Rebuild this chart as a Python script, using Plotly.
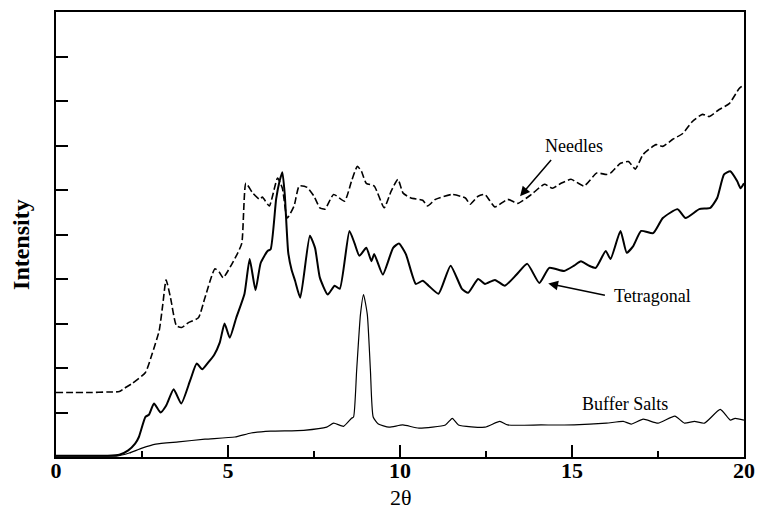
import plotly.graph_objects as go

# ---- data ----
tet_x = [0, 0.5, 1.0, 1.5, 1.84, 2.1, 2.3, 2.41, 2.6, 2.7, 2.85, 3.04, 3.2, 3.42, 3.64, 3.9, 4.09, 4.25, 4.42, 4.6,
         4.76, 4.9, 5.05, 5.24, 5.48, 5.63, 5.8, 5.95, 6.15, 6.24, 6.4, 6.5, 6.58, 6.65, 6.75, 6.85, 6.95, 7.1, 7.38,
         7.53, 7.67, 7.9, 8.1, 8.25, 8.53, 8.68, 8.82, 9.02, 9.17, 9.25, 9.5, 9.8, 9.97, 10.17, 10.46, 10.66, 10.83,
         11.12, 11.47, 11.8, 11.98, 12.27, 12.47, 12.76, 13.05, 13.39, 13.7, 14.05, 14.34, 14.77, 15.06, 15.26, 15.49,
         15.69, 15.98, 16.12, 16.41, 16.59, 16.78, 17.01, 17.36, 17.64, 18.07, 18.3, 18.7, 19.02, 19.22, 19.42, 19.6,
         19.8, 19.9, 20]
tet_y = [0.03, 0.03, 0.03, 0.03, 0.05, 0.15, 0.3, 0.45, 0.9, 0.95, 1.2, 1.0, 1.15, 1.52, 1.2, 1.72, 2.1, 1.97, 2.12, 2.3,
         2.57, 3.0, 2.68, 3.13, 3.67, 4.45, 3.75, 4.36, 4.63, 4.67, 5.8, 6.2, 6.4, 5.9, 4.6, 4.2, 3.96, 3.58, 4.97,
         4.7, 4.03, 3.65, 3.85, 3.78, 5.08, 4.8, 4.52, 4.7, 4.4, 4.56, 4.1, 4.7, 4.8, 4.56, 3.89, 3.96, 3.85,
         3.67, 4.3, 3.78, 3.69, 4.0, 3.89, 3.98, 3.85, 4.1, 4.34, 3.91, 4.25, 4.18, 4.3, 4.4, 4.3,
         4.25, 4.63, 4.45, 5.08, 4.59, 4.74, 5.08, 5.03, 5.37, 5.57, 5.37, 5.57, 5.6, 5.82, 6.35, 6.42,
         6.2, 6.04, 6.15]

ndl_x = [0, 0.5, 1.0, 1.5, 1.84, 2.0, 2.21, 2.6, 2.8, 3.0, 3.1, 3.2, 3.33, 3.5, 3.65, 3.85, 4.14, 4.33, 4.62, 4.75,
         4.86, 5.24, 5.4, 5.52, 5.72, 5.92, 6.0, 6.2, 6.44, 6.58, 6.72, 6.92, 7.07, 7.3, 7.5, 7.67, 7.82, 8.07, 8.39,
         8.59, 8.76, 8.88, 9.02, 9.25, 9.54, 9.74, 9.94, 10.09, 10.32, 10.66, 10.8, 11.03, 11.52, 11.9, 12.04, 12.27,
         12.47, 12.76, 13.13, 13.42, 13.82, 14.2, 14.43, 14.68, 14.97, 15.35, 15.72, 16.0, 16.12, 16.41, 16.64, 16.84,
         17.07, 17.44, 17.64, 17.93, 18.22, 18.5, 18.79, 18.99, 19.28, 19.57, 19.86, 20]
ndl_y = [1.45, 1.45, 1.45, 1.46, 1.47, 1.55, 1.65, 1.9, 2.33, 2.84, 3.4, 3.98, 3.58, 2.95, 2.91, 3.02, 3.13, 3.58, 4.23, 4.15,
         4.03, 4.52, 4.8, 6.15, 5.93, 5.79, 5.84, 5.64, 6.27, 6.04, 5.37, 5.64, 6.09, 6.06, 5.86, 5.6, 5.57, 5.9, 5.75,
         6.2, 6.53, 6.42, 6.15, 6.09, 5.6, 5.97, 6.24, 5.93, 5.82, 5.77, 5.64, 5.79, 5.9, 5.82, 5.68, 5.86,
         5.9, 5.62, 5.79, 5.7, 5.9, 6.13, 6.04, 6.15, 6.24, 6.09, 6.38, 6.35, 6.38, 6.6, 6.64, 6.47,
         6.8, 7.02, 6.98, 7.14, 7.27, 7.54, 7.7, 7.65, 7.81, 7.94, 8.28, 8.37]

buf_x = [0, 0.5, 1.0, 1.5, 1.75, 2.13, 2.5, 2.9, 3.56, 4.33, 5.2, 5.67, 6.24, 7.2, 7.87, 8.07, 8.36, 8.59, 8.65, 8.74,
         8.85, 8.94, 9.05, 9.14, 9.22, 9.37, 9.68, 10.08, 10.55, 11.32, 11.52, 11.7, 12.47, 12.9, 13.13, 14.1, 15.06,
         16.0, 16.49, 16.72, 17.07, 17.5, 17.99, 18.27, 18.56, 18.85, 19.31, 19.6, 19.74, 20]
buf_y = [0.02, 0.02, 0.02, 0.02, 0.02, 0.09, 0.2, 0.29, 0.34, 0.4, 0.45, 0.54, 0.58, 0.6, 0.67, 0.76, 0.69, 0.87, 0.9, 1.95,
         3.2, 3.65, 3.2, 1.95, 0.9, 0.74, 0.67, 0.72, 0.65, 0.72, 0.87, 0.72, 0.67, 0.8, 0.72, 0.72, 0.72,
         0.76, 0.8, 0.74, 0.85, 0.76, 0.92, 0.76, 0.8, 0.76, 1.07, 0.83, 0.87, 0.83]

x_tick_vals = [0, 5, 10, 15, 20]
x_tick_text = ["0", "5", "10", "15", "20"]

# label texts and anchor points (data coords)
labels = ["Needles", "Tetragonal", "Buffer Salts"]
label_x = [15.05, 17.35, 16.55]
label_y = [6.98, 3.62, 1.19]
arrow_head_x = [13.49, 14.31]
arrow_head_y = [5.86, 3.9]
arrow_tail_x = [14.43, 16.0]
arrow_tail_y = [6.71, 3.63]

FONT = "Liberation Serif, Times New Roman, serif"

fig = go.Figure()
fig.add_trace(go.Scatter(x=ndl_x, y=ndl_y, mode="lines", name="Needles",
                         line=dict(color="black", width=1.6, dash="7px,3px", shape="spline", smoothing=0.5)))
fig.add_trace(go.Scatter(x=tet_x, y=tet_y, mode="lines", name="Tetragonal",
                         line=dict(color="black", width=2, shape="spline", smoothing=0.5)))
fig.add_trace(go.Scatter(x=buf_x, y=buf_y, mode="lines", name="Buffer Salts",
                         line=dict(color="black", width=1.2, shape="spline", smoothing=0.5)))

fig.update_layout(
    width=765, height=524,
    margin=dict(l=56, r=13, t=10, b=67),
    paper_bgcolor="white", plot_bgcolor="white",
    showlegend=False,
    font=dict(family=FONT, color="black"),
)
fig.update_xaxes(
    range=[0, 20], tickvals=x_tick_vals, ticktext=x_tick_text,
    ticks="inside", ticklen=12, tickwidth=1.5, tickcolor="black",
    minor=dict(ticks="inside", ticklen=6, tickwidth=1.5, tickcolor="black", dtick=2.5, tick0=0, showgrid=False),
    showline=True, linecolor="black", linewidth=1.5, mirror=True,
    showgrid=False, zeroline=False,
    ticklabelstandoff=-7,
    tickfont=dict(family=FONT, size=22, color="black", weight="bold"),
)
fig.update_yaxes(
    range=[0, 10], dtick=1, tick0=0,
    ticks="inside", ticklen=12, tickwidth=1.5, tickcolor="black",
    showticklabels=False,
    showline=True, linecolor="black", linewidth=1.5, mirror=True,
    showgrid=False, zeroline=False,
)

# axis titles
fig.add_annotation(text="<b>Intensity</b>", xref="paper", yref="paper", x=0, y=0.4765,
                   xanchor="center", yanchor="middle", xshift=-35, textangle=-90, showarrow=False,
                   font=dict(family=FONT, size=24, color="black"))
fig.add_annotation(text="2θ", xref="paper", yref="paper", x=0.501, y=0,
                   xanchor="center", yanchor="middle", yshift=-40, showarrow=False,
                   font=dict(family=FONT, size=22, color="black"))

# series labels
for t, lx, ly in zip(labels, label_x, label_y):
    fig.add_annotation(text=t, x=lx, y=ly, showarrow=False, xanchor="center", yanchor="middle",
                       font=dict(family=FONT, size=18, color="black"))
# arrows
for hx, hy, tx, ty in zip(arrow_head_x, arrow_head_y, arrow_tail_x, arrow_tail_y):
    fig.add_annotation(text="", x=hx, y=hy, ax=tx, ay=ty, axref="x", ayref="y",
                       showarrow=True, arrowhead=2, arrowsize=1.3, arrowwidth=1.5, arrowcolor="black")

fig.write_html("out.html")
